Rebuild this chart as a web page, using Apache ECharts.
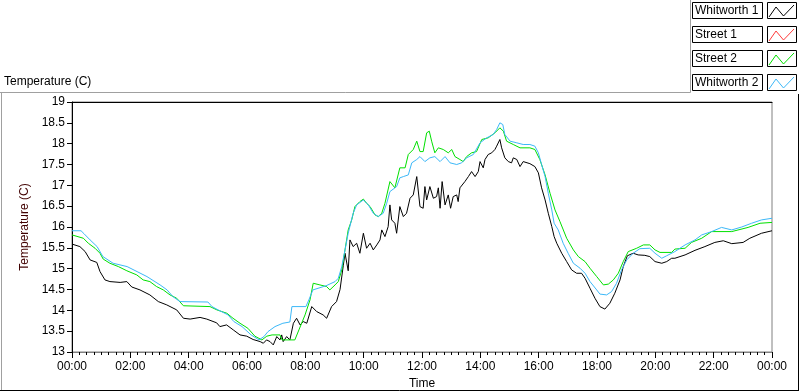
<!DOCTYPE html>
<html>
<head>
    <meta charset="UTF-8"/>
    <title>Temperature (C)</title>
    <script src="https://cdn.jsdelivr.net/npm/echarts@6/dist/echarts.min.js"></script>
    <style>
        html, body { margin: 0; padding: 0; background: #fff; }
        #chart { width: 800px; height: 392px; }
    </style>
</head>
<body>
<div id="chart"></div>
<script>
    // [hour of day, temperature]
    var whitworth1 = [
        [0, 15.59], [0.27, 15.53], [0.45, 15.41], [0.62, 15.21], [0.85, 15.15], [0.96, 14.93], [1.13, 14.73],
        [1.30, 14.69], [1.65, 14.67], [1.88, 14.69], [2.05, 14.56], [2.33, 14.49], [2.67, 14.37], [2.96, 14.21],
        [3.25, 14.13], [3.59, 14.01], [3.82, 13.81], [4.05, 13.79], [4.39, 13.83], [4.62, 13.79], [4.96, 13.70],
        [5.07, 13.61], [5.30, 13.65], [5.53, 13.53], [5.76, 13.41], [5.99, 13.38], [6.21, 13.30], [6.45, 13.25],
        [6.56, 13.21], [6.67, 13.29], [6.79, 13.25], [6.90, 13.17], [7.02, 13.37], [7.13, 13.29], [7.19, 13.41],
        [7.24, 13.25], [7.36, 13.37], [7.47, 13.29], [7.59, 13.69], [7.70, 13.81], [7.82, 13.65], [7.93, 13.73],
        [8.05, 13.69], [8.22, 14.09], [8.39, 13.97], [8.61, 13.89], [8.73, 13.81], [8.90, 14.09], [9.07, 14.21],
        [9.19, 14.50], [9.30, 15.07], [9.36, 15.37], [9.47, 14.95], [9.53, 15.69], [9.59, 15.73], [9.64, 15.53],
        [9.76, 15.61], [9.87, 15.37], [9.99, 15.85], [10.10, 15.49], [10.22, 15.61], [10.33, 15.45], [10.45, 15.57],
        [10.56, 15.69], [10.62, 15.93], [10.73, 15.77], [10.84, 16.01], [10.90, 16.53], [10.96, 16.17], [11.07, 16.09],
        [11.13, 15.85], [11.24, 16.49], [11.36, 16.25], [11.47, 16.33], [11.59, 16.69], [11.70, 16.77], [11.82, 17.21],
        [11.93, 16.49], [12.04, 16.45], [12.10, 16.97], [12.16, 16.65], [12.27, 16.97], [12.39, 16.69], [12.50, 16.73],
        [12.56, 16.94], [12.62, 16.45], [12.69, 17.09], [12.79, 16.53], [12.90, 16.77], [12.98, 16.45], [13.07, 16.73],
        [13.19, 16.77], [13.24, 16.61], [13.30, 16.94], [13.47, 17.09], [13.59, 17.21], [13.70, 17.33], [13.82, 17.21],
        [13.93, 17.33], [13.99, 17.57], [14.10, 17.42], [14.16, 17.62], [14.27, 17.74], [14.39, 17.78], [14.50, 17.86],
        [14.56, 17.94], [14.67, 18.10], [14.73, 17.90], [14.84, 17.66], [14.96, 17.57], [15.07, 17.54], [15.13, 17.66],
        [15.25, 17.62], [15.36, 17.45], [15.47, 17.57], [15.70, 17.52], [15.87, 17.45], [15.99, 17.30], [16.10, 16.94],
        [16.22, 16.65], [16.33, 16.33], [16.45, 16.01], [16.53, 15.77], [16.62, 15.61], [16.79, 15.37], [16.96, 15.17],
        [17.13, 14.97], [17.30, 14.89], [17.47, 14.89], [17.59, 14.77], [17.76, 14.53], [17.93, 14.29], [18.10, 14.09],
        [18.27, 14.03], [18.44, 14.17], [18.61, 14.41], [18.79, 14.73], [18.90, 15.05], [19.04, 15.31], [19.24, 15.37],
        [19.41, 15.33], [19.64, 15.32], [19.81, 15.29], [19.99, 15.17], [20.22, 15.13], [20.39, 15.17], [20.56, 15.25],
        [20.67, 15.25], [21.02, 15.33], [21.36, 15.44], [21.70, 15.53], [22.04, 15.63], [22.33, 15.67], [22.62, 15.60],
        [23.01, 15.63], [23.24, 15.73], [23.64, 15.85], [24.0, 15.91]
    ];
    var street1 = [];
    var street2 = [
        [0, 15.81], [0.39, 15.73], [0.56, 15.61], [0.79, 15.49], [0.96, 15.37], [1.07, 15.23], [1.30, 15.13],
        [1.59, 15.05], [1.88, 14.95], [2.22, 14.85], [2.44, 14.73], [2.67, 14.69], [2.90, 14.57], [3.13, 14.49],
        [3.36, 14.37], [3.59, 14.29], [3.82, 14.11], [4.73, 14.09], [4.97, 14.01], [5.31, 13.93], [5.52, 13.81],
        [5.76, 13.69], [6.03, 13.57], [6.27, 13.38], [6.51, 13.29], [6.68, 13.38], [6.86, 13.41], [7.13, 13.41],
        [7.20, 13.29], [7.64, 13.29], [7.78, 13.53], [7.99, 13.89], [8.16, 14.25], [8.27, 14.65], [8.33, 14.69],
        [8.50, 14.61], [8.73, 14.57], [8.84, 14.49], [9.02, 14.61], [9.13, 14.69], [9.25, 14.97], [9.36, 15.45],
        [9.47, 15.93], [9.59, 16.17], [9.70, 16.49], [9.87, 16.61], [9.99, 16.67], [10.10, 16.57], [10.22, 16.49],
        [10.39, 16.29], [10.50, 16.25], [10.62, 16.33], [10.73, 16.57], [10.90, 17.09], [11.07, 16.94], [11.24, 17.42],
        [11.42, 17.42], [11.53, 17.74], [11.70, 17.86], [11.82, 18.06], [11.93, 17.81], [12.04, 17.81], [12.16, 18.26],
        [12.25, 18.30], [12.33, 18.06], [12.44, 17.78], [12.56, 17.90], [12.73, 17.86], [12.90, 17.78], [13.02, 17.86],
        [13.13, 17.69], [13.30, 17.62], [13.41, 17.57], [13.53, 17.69], [13.70, 17.78], [13.87, 17.81], [14.05, 18.10],
        [14.27, 18.14], [14.50, 18.26], [14.67, 18.38], [14.79, 18.30], [14.90, 18.06], [15.13, 17.98], [15.36, 17.90],
        [15.70, 17.90], [15.87, 17.86], [16.04, 17.62], [16.22, 17.25], [16.39, 16.81], [16.56, 16.41], [16.73, 16.13],
        [16.96, 15.73], [17.19, 15.45], [17.36, 15.29], [17.59, 15.17], [17.76, 15.01], [17.99, 14.81], [18.22, 14.61],
        [18.39, 14.63], [18.56, 14.73], [18.73, 14.89], [18.90, 15.17], [19.07, 15.41], [19.36, 15.49], [19.59, 15.57],
        [19.81, 15.57], [19.99, 15.45], [20.16, 15.39], [20.56, 15.39], [20.67, 15.47], [21.02, 15.49], [21.24, 15.63],
        [21.59, 15.73], [21.93, 15.89], [22.62, 15.89], [23.18, 15.99], [23.59, 16.09], [24.0, 16.11]
    ];
    var whitworth2 = [
        [0, 15.91], [0.31, 15.91], [0.41, 15.84], [0.62, 15.69], [0.86, 15.53], [1.06, 15.29], [1.41, 15.13],
        [1.89, 15.05], [2.23, 14.93], [2.57, 14.81], [3.02, 14.61], [3.26, 14.49], [3.46, 14.33], [3.70, 14.21],
        [4.66, 14.20], [4.80, 14.09], [5.01, 14.01], [5.35, 13.89], [5.55, 13.73], [5.83, 13.61], [6.14, 13.41],
        [6.41, 13.29], [6.58, 13.37], [6.72, 13.49], [6.96, 13.61], [7.23, 13.69], [7.47, 13.72], [7.54, 14.09],
        [8.02, 14.09], [8.12, 14.25], [8.26, 14.49], [8.71, 14.59], [9.02, 14.69], [9.13, 14.77], [9.25, 15.05],
        [9.36, 15.45], [9.47, 15.85], [9.64, 16.33], [9.76, 16.53], [9.99, 16.65], [10.16, 16.53], [10.33, 16.33],
        [10.50, 16.25], [10.67, 16.33], [10.79, 16.57], [10.90, 16.85], [11.13, 16.97], [11.24, 17.18], [11.36, 17.21],
        [11.53, 17.25], [11.65, 17.54], [11.82, 17.62], [11.93, 17.69], [12.10, 17.57], [12.27, 17.66], [12.44, 17.69],
        [12.62, 17.57], [12.79, 17.69], [12.96, 17.54], [13.19, 17.50], [13.36, 17.54], [13.53, 17.66], [13.76, 17.74],
        [13.99, 18.02], [14.22, 18.14], [14.44, 18.22], [14.56, 18.34], [14.67, 18.50], [14.77, 18.46], [14.84, 18.22],
        [15.02, 18.06], [15.25, 18.02], [15.47, 17.98], [15.70, 17.98], [15.87, 17.94], [15.99, 17.78], [16.10, 17.50],
        [16.22, 17.21], [16.33, 16.81], [16.45, 16.41], [16.53, 16.09], [16.67, 15.93], [16.84, 15.61], [17.01, 15.37],
        [17.19, 15.13], [17.42, 15.01], [17.59, 14.89], [17.76, 14.69], [17.99, 14.49], [18.10, 14.39], [18.33, 14.37],
        [18.50, 14.45], [18.67, 14.65], [18.84, 14.97], [19.02, 15.21], [19.24, 15.37], [19.47, 15.48], [19.81, 15.49],
        [19.99, 15.37], [20.22, 15.25], [20.39, 15.31], [20.67, 15.41], [21.02, 15.57], [21.36, 15.69], [21.59, 15.81],
        [21.93, 15.89], [22.27, 15.99], [22.62, 15.93], [22.96, 16.00], [23.30, 16.09], [23.64, 16.17], [24.0, 16.21]
    ];

    var seriesNames = ['Whitworth 1', 'Street 1', 'Street 2', 'Whitworth 2'];
    var seriesColors = ['#000000', '#ff3b3b', '#00e000', '#3cb8f8'];
    var seriesData = [whitworth1, street1, street2, whitworth2];

    var font = '"Liberation Sans", Arial, sans-serif';

    function hourLabel(v) {
        var h = Math.round(v) % 24;
        return (h < 10 ? '0' : '') + h + ':00';
    }

    // LabVIEW style legend: name box + line sample box
    var legendItems = [];
    seriesNames.forEach(function (name, i) {
        var top = 3 + i * 24;
        legendItems.push({
            type: 'rect', shape: {x: 692.5, y: top - 0.5, width: 70, height: 16},
            style: {fill: '#fff', stroke: '#000', lineWidth: 1}
        });
        legendItems.push({
            type: 'text', x: 695, y: top + 8,
            style: {text: name, fill: '#000', font: '12px ' + font, verticalAlign: 'middle'}
        });
        legendItems.push({
            type: 'rect', shape: {x: 767.5, y: top - 0.5, width: 29, height: 16},
            style: {fill: '#fff', stroke: '#000', lineWidth: 1}
        });
        legendItems.push({
            type: 'polyline',
            shape: {points: [[769, top + 14], [776, top + 4], [783.5, top + 13], [794, top + 2]]},
            style: {stroke: seriesColors[i], lineWidth: 1, fill: null}
        });
    });

    // outer frame
    var frame = [
        {type: 'line', shape: {x1: 0, y1: 92.5, x2: 690.5, y2: 92.5}, style: {stroke: '#a0a0a0'}},
        {type: 'line', shape: {x1: 690.5, y1: 0, x2: 690.5, y2: 92.5}, style: {stroke: '#a0a0a0'}},
        {type: 'line', shape: {x1: 1.5, y1: 92.5, x2: 1.5, y2: 390}, style: {stroke: '#a0a0a0'}},
        {type: 'line', shape: {x1: 0, y1: 390.5, x2: 799, y2: 390.5}, style: {stroke: '#000'}},
        {type: 'line', shape: {x1: 798.5, y1: 94, x2: 798.5, y2: 391}, style: {stroke: '#000'}}
    ];

    var chart = echarts.init(document.getElementById('chart'));
    var option = {
        animation: false,
        backgroundColor: '#fff',
        title: {
            text: 'Temperature (C)', left: 4, top: 76, padding: 0,
            textStyle: {fontFamily: font, fontSize: 12, fontWeight: 'normal', color: '#000'}
        },
        grid: {
            left: 72, right: 28, top: 102, bottom: 40,
            containLabel: false, outerBoundsMode: 'none',
            show: true, borderColor: '#808080', borderWidth: 1, backgroundColor: '#fff'
        },
        xAxis: [{
            type: 'value', min: 0, max: 24, interval: 2,
            name: 'Time', nameLocation: 'middle', nameGap: 25,
            nameTextStyle: {fontFamily: font, fontSize: 12, color: '#000'},
            axisLine: {show: true, lineStyle: {color: '#808080'}},
            axisTick: {show: true, length: 6, lineStyle: {color: '#000'}},
            minorTick: {show: true, splitNumber: 8, length: 3, lineStyle: {color: '#000'}},
            axisLabel: {formatter: hourLabel, margin: 9, fontFamily: font, fontSize: 12, color: '#000'},
            splitLine: {show: false}
        }, {
            type: 'value', position: 'top', min: 0, max: 24,
            axisLine: {show: true, lineStyle: {color: '#000'}},
            axisTick: {show: false}, axisLabel: {show: false}, splitLine: {show: false}
        }],
        yAxis: {
            type: 'value', min: 13, max: 19, interval: 0.5,
            name: 'Temperature (C)', nameLocation: 'middle', nameGap: 33, nameRotate: 90,
            nameTextStyle: {fontFamily: font, fontSize: 12, color: '#400000'},
            axisLine: {show: true, lineStyle: {color: '#000'}},
            axisTick: {show: true, length: 5, lineStyle: {color: '#000'}},
            axisLabel: {margin: 7, fontFamily: font, fontSize: 12, color: '#000'},
            splitLine: {show: false}
        },
        graphic: frame.concat(legendItems),
        series: seriesNames.map(function (name, i) {
            return {
                name: name, type: 'line', data: seriesData[i],
                showSymbol: false, symbol: 'none',
                lineStyle: {color: seriesColors[i], width: 1},
                itemStyle: {color: seriesColors[i]}
            };
        })
    };
    chart.setOption(option);
</script>
</body>
</html>
